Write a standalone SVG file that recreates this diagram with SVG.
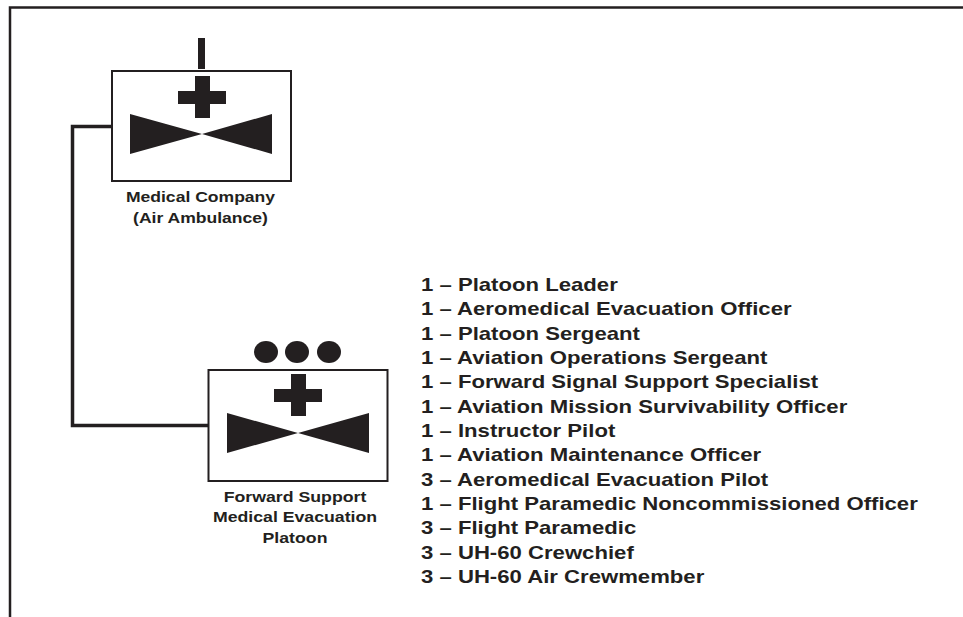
<svg xmlns="http://www.w3.org/2000/svg" width="963" height="617" viewBox="0 0 963 617">
<style>
text{font-family:"Liberation Sans",Arial,sans-serif;font-weight:bold;fill:#231f20}
.lab{font-size:14.4px;text-anchor:middle}
.li{font-size:18.6px}
.box{fill:#fff;stroke:#231f20;stroke-width:2}
.ink{fill:#231f20}
.wire{fill:none;stroke:#231f20;stroke-width:3.5}
</style>
<rect width="963" height="617" fill="#fff"/>
<path d="M10 617V7.500H963" fill="none" stroke="#231f20" stroke-width="2.500"/>
<g id="connectors"><path class="wire" d="M112 126.500H72.500V425.500H208"/></g>
<g id="medical-company">
<rect class="ink" x="198" y="38" width="7" height="31"/>
<rect class="box" x="112" y="71" width="179" height="110"/>
<path class="ink" d="M195 76h15v15h16v13h-16v14h-15v-14h-17v-13h17z"/>
<path class="ink" d="M130 114L202 134L272 114V154L202 134L130 154z"/>
<g transform="translate(200.500 0) scale(1.22 1)">
<text class="lab" x="0" y="202">Medical Company</text>
<text class="lab" x="0" y="222.700">(Air Ambulance)</text>
</g>
</g>
<g id="forward-support">
<ellipse class="ink" cx="266" cy="352" rx="12" ry="11"/>
<ellipse class="ink" cx="297" cy="352" rx="12" ry="11"/>
<ellipse class="ink" cx="329" cy="352" rx="12" ry="11"/>
<rect class="box" x="208.500" y="370" width="179" height="111"/>
<path class="ink" d="M291 374h15v15h16v13h-16v14h-15v-14h-17v-13h17z"/>
<path class="ink" d="M227 413L298 433L369 413V453L298 433L227 453z"/>
<g transform="translate(295 0) scale(1.23 1)">
<text class="lab" x="0" y="501.700">Forward Support</text>
<text class="lab" x="0" y="522.300">Medical Evacuation</text>
<text class="lab" x="0" y="543.300">Platoon</text>
</g>
</g>
<g id="roster" transform="translate(421 0) scale(1.19 1)">
<text class="li" x="0" y="291">1 – Platoon Leader</text>
<text class="li" x="0" y="315.300">1 – Aeromedical Evacuation Officer</text>
<text class="li" x="0" y="339.700">1 – Platoon Sergeant</text>
<text class="li" x="0" y="364">1 – Aviation Operations Sergeant</text>
<text class="li" x="0" y="388.300">1 – Forward Signal Support Specialist</text>
<text class="li" x="0" y="412.700">1 – Aviation Mission Survivability Officer</text>
<text class="li" x="0" y="437">1 – Instructor Pilot</text>
<text class="li" x="0" y="461.300">1 – Aviation Maintenance Officer</text>
<text class="li" x="0" y="485.700">3 – Aeromedical Evacuation Pilot</text>
<text class="li" x="0" y="510">1 – Flight Paramedic Noncommissioned Officer</text>
<text class="li" x="0" y="534.300">3 – Flight Paramedic</text>
<text class="li" x="0" y="558.700">3 – UH-60 Crewchief</text>
<text class="li" x="0" y="583">3 – UH-60 Air Crewmember</text>
</g>
</svg>
